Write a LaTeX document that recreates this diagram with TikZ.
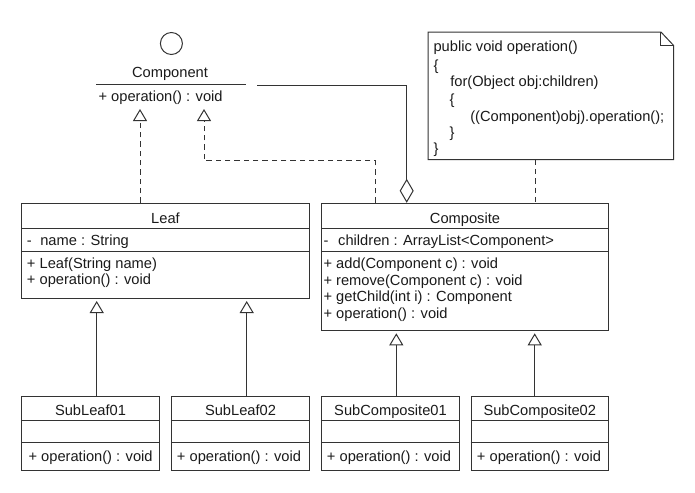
\documentclass[tikz,border=0pt]{standalone}
\usepackage{fontspec}
\setmainfont{Liberation Sans}
\usetikzlibrary{arrows.meta,calc,fit}
\definecolor{linec}{HTML}{333333}
\definecolor{textc}{HTML}{1A1A1A}
\begin{document}
\begin{tikzpicture}[x=0.75pt,y=-0.75pt,
  box/.style={draw=linec, line width=0.75pt, inner sep=0pt},
  frame/.style={inner sep=0pt},
  sep/.style={draw=linec, line width=0.75pt},
  txt/.style={font=\fontsize{11}{13}\selectfont, inner sep=0pt, text=textc},
  lt/.style={txt, anchor=base west},
  ct/.style={txt, anchor=base},
  gen/.style={draw=linec, line width=0.75pt, -{Triangle[open, length=9pt, width=10.5pt]}},
  realize/.style={gen, dash pattern=on 4pt off 3pt},
  aggr/.style={draw=linec, line width=0.75pt, {Diamond[open, length=18pt, width=10.5pt]}-},
  notelink/.style={draw=linec, line width=0.75pt, dash pattern=on 4pt off 3pt}]
\useasboundingbox (0,0) rectangle (695,492);

% ---- Component interface ----
\node[draw=linec, line width=0.75pt, circle, minimum size=16.5pt, inner sep=0pt] (ball) at (171.4,43.5) {};
\node[frame, fit={(96.7,62) (246,104)}] (iface) {};
\node[ct] (ifacename) at (170,78) {Component};
\draw[sep] (iface.west |- 0,84) -- (iface.east |- 0,84);
\node[lt] (ifaceop) at (98.3,101) {+ operation() : void};
\coordinate (tipA) at (140,109);
\coordinate (tipB) at (204,109);
\coordinate (aggEnd) at (256.7,85.7);

% ---- Note ----
\node[frame, fit={(428.3,32.3) (673.3,159.3)}] (note) {};
\draw[sep] (note.north west) -- ($(note.north east)+(-12.6,0)$) -- ($(note.north east)+(0,13.4)$)
  -- (note.south east) -- (note.south west) -- cycle;
\draw[sep] ($(note.north east)+(-12.6,0)$) -- ++(0,13.4) -- ++(12.6,0);
\node[lt] (n1) at (433.3,51.7) {public void operation()};
\node[lt] (n2) at (433.3,70) {\{};
\node[lt] (n3) at (450,86) {for(Object obj:children)};
\node[lt] (n4) at (449.3,104) {\{};
\node[lt] (n5) at (470,121) {((Component)obj).operation();};
\node[lt] (n6) at (449.3,137.7) {\}};
\node[lt] (n7) at (433.3,153) {\}};

% ---- Leaf ----
\node[box, fit={(21.7,203.3) (309.3,298)}] (leaf) {};
\draw[sep] (leaf.west |- 0,228) -- (leaf.east |- 0,228);
\draw[sep] (leaf.west |- 0,251) -- (leaf.east |- 0,251);
\node[ct] (leaft) at (165.5,223) {Leaf};
\node[lt] (leafa) at (26.7,245) {\makebox[10pt][l]{-}name : String};
\node[lt] (leafm1) at (26.7,268.3) {+ Leaf(String name)};
\node[lt] (leafm2) at (26.7,284.3) {+ operation() : void};

% ---- Composite ----
\node[box, fit={(321.7,203.3) (608.3,330.5)}] (composite) {};
\draw[sep] (composite.west |- 0,228.3) -- (composite.east |- 0,228.3);
\draw[sep] (composite.west |- 0,251) -- (composite.east |- 0,251);
\node[ct] (compt) at (465,223) {Composite};
\node[lt] (compa) at (323.3,245) {\makebox[11pt][l]{-}children : ArrayList<Component>};
\node[lt] (compm1) at (323.3,268.3) {+ add(Component c) : void};
\node[lt] (compm2) at (323.3,285) {+ remove(Component c) : void};
\node[lt] (compm3) at (323.3,301) {+ getChild(int i) : Component};
\node[lt] (compm4) at (323.3,318.3) {+ operation() : void};

% ---- Subclasses ----
\node[box, fit={(21.7,396) (159.3,470)}] (sl1) {};
\node[box, fit={(171.7,396) (309.3,470)}] (sl2) {};
\node[box, fit={(321.7,396) (459.3,470)}] (sc1) {};
\node[box, fit={(471,396) (608.6,470)}] (sc2) {};
\foreach \b in {sl1,sl2,sc1,sc2}{
  \draw[sep] (\b.west |- 0,420.7) -- (\b.east |- 0,420.7);
  \draw[sep] (\b.west |- 0,442.7) -- (\b.east |- 0,442.7);
}
\node[ct] (sl1t) at (sl1.north |- 0,415) {SubLeaf01};
\node[ct] (sl2t) at (sl2.north |- 0,415) {SubLeaf02};
\node[ct] (sc1t) at (sc1.north |- 0,415) {SubComposite01};
\node[ct] (sc2t) at (sc2.north |- 0,415) {SubComposite02};
\node[lt] (sl1m) at (28.3,461.7) {+ operation() : void};
\node[lt] (sl2m) at (176.7,461.7) {+ operation() : void};
\node[lt] (sc1m) at (326.7,461.7) {+ operation() : void};
\node[lt] (sc2m) at (476.7,461.7) {+ operation() : void};

% ---- Connectors ----
\coordinate (tipL1) at (96.7,301);
\coordinate (tipL2) at (246.7,301);
\coordinate (tipC1) at (396.3,333.3);
\coordinate (tipC2) at (534.7,333.3);
\draw[realize] (leaf.north -| tipA) -- (tipA);
\draw[realize] (composite.north -| 375,0) |- (tipB |- 0,160.7) -- (tipB);
\draw[aggr] (composite.north -| 406.7,0) |- (aggEnd);
\draw[notelink] (note.south -| 535,0) -- (composite.north -| 535,0);
\draw[gen] (sl1.north -| tipL1) -- (tipL1);
\draw[gen] (sl2.north -| tipL2) -- (tipL2);
\draw[gen] (sc1.north -| tipC1) -- (tipC1);
\draw[gen] (sc2.north -| tipC2) -- (tipC2);
\end{tikzpicture}
\end{document}
